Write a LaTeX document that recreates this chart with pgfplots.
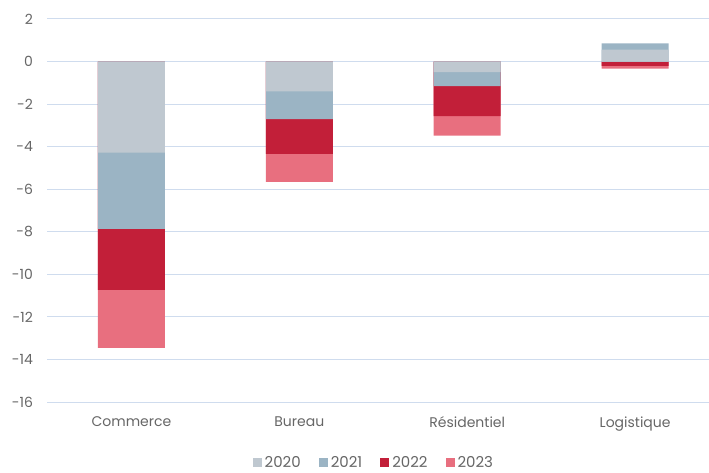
\documentclass[border=0pt]{standalone}
\usepackage{pgfplots}
\usepackage{pgfplotstable}
\pgfplotsset{compat=1.18}
\usepackage{fontspec}
\setmainfont{Poppins}
\definecolor{cA}{HTML}{BFC8D0}
\definecolor{cB}{HTML}{9BB4C4}
\definecolor{cC}{HTML}{C21F39}
\definecolor{cD}{HTML}{E86F7F}
\definecolor{gridc}{HTML}{CFDCEE}
\definecolor{txt}{HTML}{666666}
\pgfplotstableread{
x v20 v21 v22 v23
0 -4.28 -3.58 -2.87 -2.73
1 -1.40 -1.30 -1.64 -1.31
2 -0.50 -0.66 -1.40 -0.92
3 0.56 0.29 -0.20 -0.13
}\data
\begin{document}
\begin{tikzpicture}
\useasboundingbox (0,0) rectangle (709pt,472pt);
\begin{axis}[
  at={(47.5pt,70pt)}, anchor=south west,
  scale only axis, width=661.5pt, height=383pt,
  xmin=-0.5, xmax=3.44, ymin=-16, ymax=2,
  ytick={-16,-14,...,2},
  xtick={0,1,2,3},
  xticklabels={Commerce,Bureau,Résidentiel,Logistique},
  axis line style={draw=none},
  major tick length=0pt,
  ymajorgrids, grid style={gridc, line width=1pt},
  tick label style={font=\fontsize{14}{16}\selectfont, text=txt},
  /pgf/number format/assume math mode=true,
  yticklabel style={xshift=-11pt},
  xticklabel style={yshift=-11pt},
  legend style={at={(0.4934,-0.158)}, anchor=center, draw=none, fill=none,
    legend columns=4, font=\fontsize{15}{17}\selectfont, text=txt,
    /tikz/every even column/.append style={column sep=16pt},
    /tikz/every odd column/.append style={column sep=1pt}},
  legend image code/.code={\fill[#1] (0pt,-4.5pt) rectangle (9pt,4.5pt);},
]
\addlegendimage{fill=cA, draw=none}\addlegendentry{2020}
\addlegendimage{fill=cB, draw=none}\addlegendentry{2021}
\addlegendimage{fill=cC, draw=none}\addlegendentry{2022}
\addlegendimage{fill=cD, draw=none}\addlegendentry{2023}
% negative stacks (deepest first)
\addplot[ybar, bar width=67pt, bar shift=0pt, fill=cD, draw=none, forget plot]
  table[x=x, y expr={min(\thisrow{v20},0)+min(\thisrow{v21},0)+min(\thisrow{v22},0)+min(\thisrow{v23},0)}]{\data};
\addplot[ybar, bar width=67pt, bar shift=0pt, fill=cC, draw=none, forget plot]
  table[x=x, y expr={min(\thisrow{v20},0)+min(\thisrow{v21},0)+min(\thisrow{v22},0)}]{\data};
\addplot[ybar, bar width=67pt, bar shift=0pt, fill=cB, draw=none, forget plot]
  table[x=x, y expr={min(\thisrow{v20},0)+min(\thisrow{v21},0)}]{\data};
\addplot[ybar, bar width=67pt, bar shift=0pt, fill=cA, draw=none, forget plot]
  table[x=x, y expr={min(\thisrow{v20},0)}]{\data};
% positive stacks
\addplot[ybar, bar width=67pt, bar shift=0pt, fill=cB, draw=none, forget plot]
  table[x=x, y expr={max(\thisrow{v20},0)+max(\thisrow{v21},0)}]{\data};
\addplot[ybar, bar width=67pt, bar shift=0pt, fill=cA, draw=none, forget plot]
  table[x=x, y expr={max(\thisrow{v20},0)}]{\data};
\end{axis}
\end{tikzpicture}
\end{document}
